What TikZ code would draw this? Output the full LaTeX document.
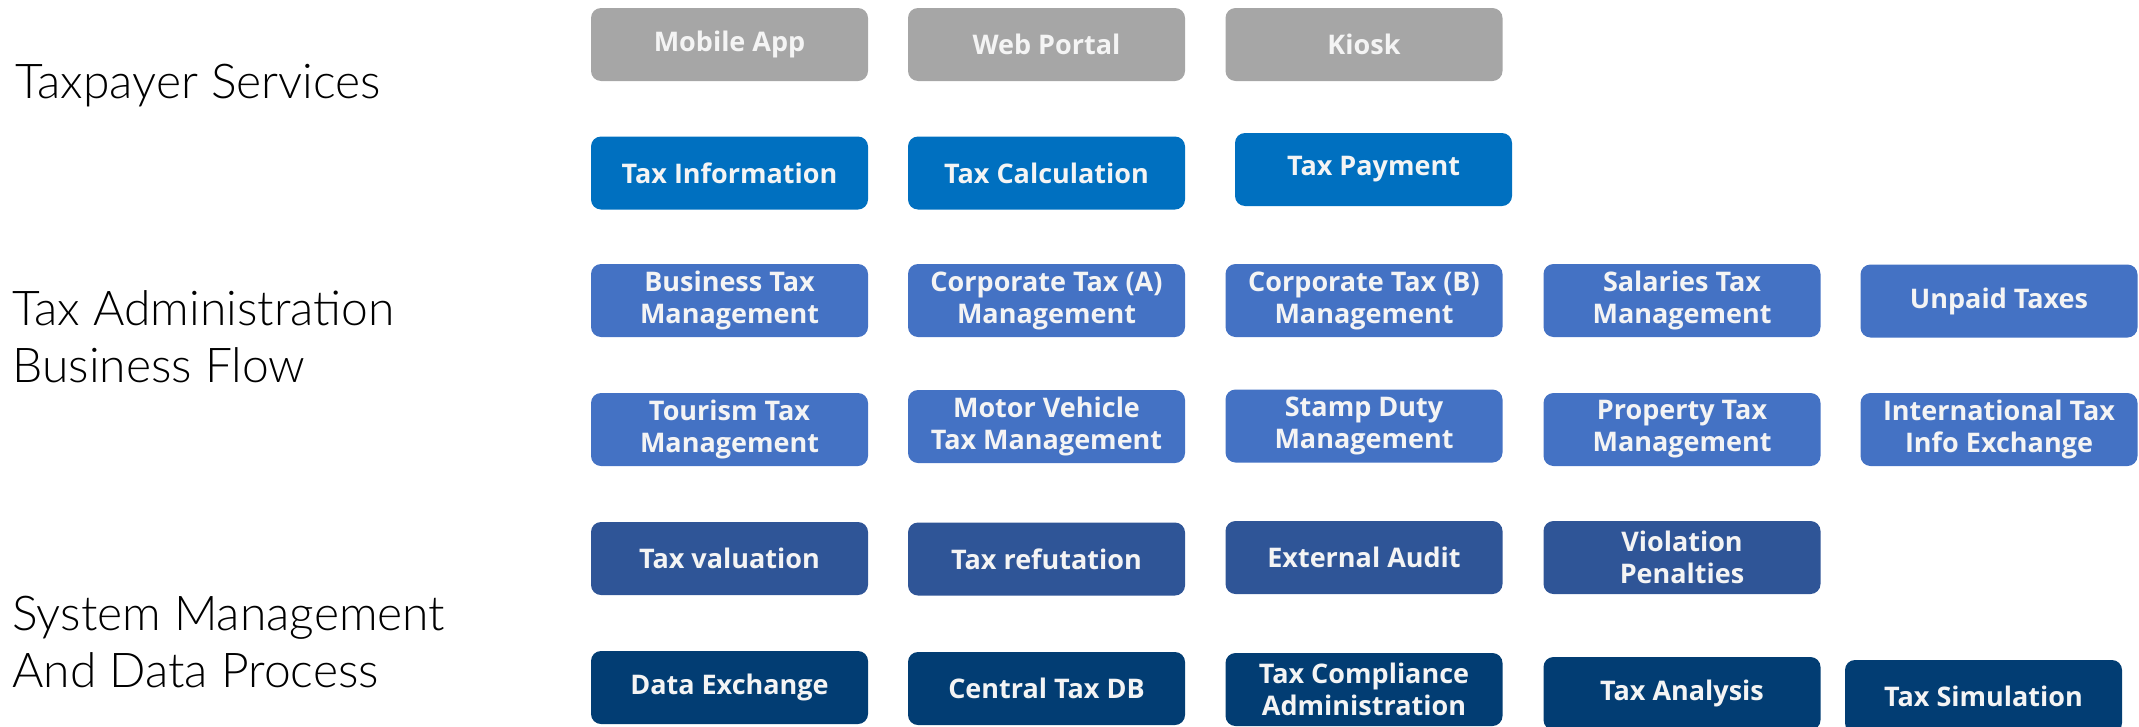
\documentclass[tikz,border=0pt]{standalone}
\usepackage{fontspec}
\setmainfont{Open Sans}
\newfontfamily\sidefont{Lato Light}
\definecolor{chgray}{HTML}{A6A6A6}
\definecolor{svcblue}{HTML}{0070C0}
\definecolor{flowblue}{HTML}{4472C4}
\definecolor{ctrlblue}{HTML}{2F5597}
\definecolor{datanavy}{HTML}{023D73}
\definecolor{tiletext}{HTML}{F4F4F4}
\tikzset{
  tile/.style={rounded corners=10pt, minimum width=277pt, minimum height=73pt,
    inner sep=0pt, align=center, text=tiletext,
    font=\fontsize{27}{32}\selectfont\bfseries},
  side/.style={anchor=base west, align=left,
    font=\sidefont\fontsize{48}{57}\selectfont}
}
\begin{document}
\begin{tikzpicture}[x=1pt,y=-1pt]
\useasboundingbox (0,0) rectangle (2139,726);

% layer names
\node[side] (svc) at (12,98) {Taxpayer Services};
\node[side] (adm) at (9,382) {Tax Administration\\Business Flow};
\node[side] (sys) at (9,687) {System Management\\And Data Process};

% channels
\foreach \x/\n/\lbl in {729.5/app/Mobile App,1046.5/web/Web Portal,1364/kiosk/Kiosk}
  \node[tile,fill=chgray] (\n) at (\x,44.5) {\lbl};

% services
\foreach \x/\y/\n/\lbl in {729.5/173/info/Tax Information,1046.5/173/calc/Tax Calculation,
    1373.5/169.5/pay/Tax Payment}
  \node[tile,fill=svcblue] (\n) at (\x,\y) {\lbl};

% business flow
\foreach \x/\y/\n/\lbl in {729.5/300.5/biz/Business Tax\\Management,
    1046.5/300.5/corpa/Corporate Tax (A)\\Management,
    1364/300.5/corpb/Corporate Tax (B)\\Management,
    1682/300.5/sal/Salaries Tax\\Management,
    1999/301/unpaid/Unpaid Taxes,
    729.5/429.5/tour/Tourism Tax\\Management,
    1046.5/426.5/motor/Motor Vehicle\\Tax Management,
    1364/426/stamp/Stamp Duty\\Management,
    1682/429.5/prop/Property Tax\\Management,
    1999/429.5/intl/International Tax\\Info Exchange}
  \node[tile,fill=flowblue] (\n) at (\x,\y) {\lbl};

% control
\foreach \x/\y/\n/\lbl in {729.5/558.5/val/Tax valuation,1046.5/559/refut/Tax refutation,
    1364/557.5/audit/External Audit,1682/557.5/viol/Violation\\Penalties}
  \node[tile,fill=ctrlblue] (\n) at (\x,\y) {\lbl};

% data
\foreach \x/\y/\n/\lbl in {729.5/687.5/dx/Data Exchange,1046.5/688.5/db/Central Tax DB,
    1364/689.5/comp/Tax Compliance\\Administration,1682/693.5/ana/Tax Analysis,
    1983.5/696.5/sim/Tax Simulation}
  \node[tile,fill=datanavy] (\n) at (\x,\y) {\lbl};
\end{tikzpicture}
\end{document}
